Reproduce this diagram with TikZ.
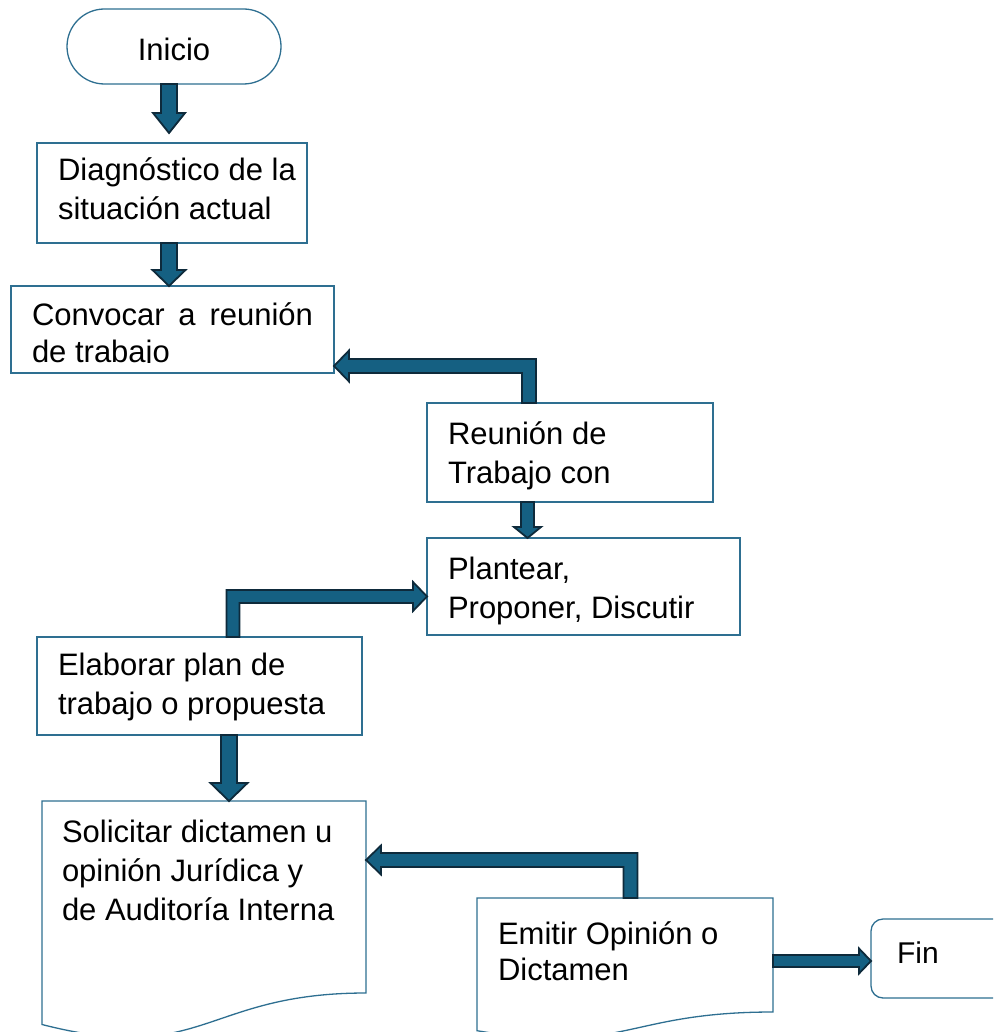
\documentclass[tikz,border=0pt]{standalone}
\usepackage{fontspec}
\setmainfont{Liberation Sans}
\usetikzlibrary{calc}
\definecolor{boxline}{HTML}{2E6F91}
\definecolor{arrfill}{HTML}{156082}
\definecolor{arrline}{HTML}{0E2A3B}
\newcommand\lnstrut{\rule[-0.3\baselineskip]{0pt}{\baselineskip}}
% vertical block arrow: #1 x, #2 source anchor, #3 target anchor, #4 half shaft, #5 half head, #6 head length, #7 tip lift
\newcommand\vblock[7]{%
  \path[barrow] let \p1=(#1,0 |- #2), \p2=($(#1,0 |- #3)+(0,#7)$) in
  (\x1-#4,\y1) -- (\x1-#4,\y2+#6) -- (\x1-#5,\y2+#6) -- (\x1,\y2) --
  (\x1+#5,\y2+#6) -- (\x1+#4,\y2+#6) -- (\x1+#4,\y1) -- cycle;}
% elbow arrow up then left: #1 shaft x, #2 source anchor, #3 y of horizontal, #4 target anchor, #5 half shaft, #6 half head, #7 head length
\newcommand\elbowL[7]{%
  \path[barrow] let \p1=(#1,0 |- #2), \p2=(#4 |- 0,#3) in
  (\x1-#5,\y1) -- (\x1-#5,\y2-#5) -- (\x2+#7,\y2-#5) -- (\x2+#7,\y2-#6) -- (\x2,\y2) --
  (\x2+#7,\y2+#6) -- (\x2+#7,\y2+#5) -- (\x1+#5,\y2+#5) -- (\x1+#5,\y1) -- cycle;}
% elbow arrow up then right
\newcommand\elbowR[7]{%
  \path[barrow] let \p1=(#1,0 |- #2), \p2=(#4 |- 0,#3) in
  (\x1+#5,\y1) -- (\x1+#5,\y2-#5) -- (\x2-#7,\y2-#5) -- (\x2-#7,\y2-#6) -- (\x2,\y2) --
  (\x2-#7,\y2+#6) -- (\x2-#7,\y2+#5) -- (\x1-#5,\y2+#5) -- (\x1-#5,\y1) -- cycle;}
% horizontal block arrow: #1 source, #2 target, #3 y, #4 half shaft, #5 half head, #6 head length
\newcommand\hblock[6]{%
  \path[barrow] let \p1=(#1 |- 0,#3), \p2=(#2 |- 0,#3) in
  (\x1,\y1+#4) -- (\x2-#6,\y1+#4) -- (\x2-#6,\y1+#5) -- (\x2,\y1) --
  (\x2-#6,\y1-#5) -- (\x2-#6,\y1-#4) -- (\x1,\y1-#4) -- cycle;}
\begin{document}
\begin{tikzpicture}[x=1pt,y=1pt,
  box/.style={draw=boxline, line width=1.3pt, fill=white, rectangle, inner sep=0pt, outer sep=0pt},
  docbox/.style={draw=none, rectangle, inner sep=0pt, outer sep=0pt},
  docline/.style={draw=boxline, line width=1.3pt, fill=white},
  txt/.style={inner sep=0pt, outer sep=0pt, anchor=north west, align=left, font=\fontsize{31}{39}\selectfont},
  barrow/.style={fill=arrfill, draw=arrline, line width=1.8pt, line join=miter},
]
\useasboundingbox (0,0) rectangle (993,-1032);
\clip (0,0) rectangle (993,-1032);

% Inicio
\node[box, rounded corners=37.5pt, minimum width=214pt, minimum height=75pt,
      font=\fontsize{31}{39}\selectfont, text height=29pt, text depth=0pt] (inicio) at (174,-46.5) {Inicio};

% Diagnostico
\node[box, minimum width=270pt, minimum height=100pt] (diag) at (172,-193) {};
\node[txt] (tdiag) at ([xshift=21pt,yshift=-10.7pt]diag.north west) {\lnstrut Diagnóstico de la\\\lnstrut situación actual};

% Convocar
\node[box, minimum width=323pt, minimum height=87pt] (conv) at (172.5,-329.5) {};
\begin{scope}
\clip (conv.north west) rectangle ([yshift=10.5pt]conv.south east);
\node[txt, text width=281pt, align=justify, font=\fontsize{31}{37}\selectfont] (tconv)
  at ([xshift=21pt,yshift=-13.1pt]conv.north west) {\lnstrut Convocar a reunión\linebreak\lnstrut de trabajo};
\end{scope}

% Reunion
\node[box, minimum width=286pt, minimum height=99pt] (reun) at (570,-452.5) {};
\node[txt] (treun) at ([xshift=21pt,yshift=-13.7pt]reun.north west) {\lnstrut Reunión de\\\lnstrut Trabajo con};

% Plantear
\node[box, minimum width=313pt, minimum height=97pt] (plan) at (583.5,-586.5) {};
\node[txt] (tplan) at ([xshift=21pt,yshift=-13.7pt]plan.north west) {\lnstrut Plantear,\\\lnstrut Proponer, Discutir};

% Elaborar
\node[box, minimum width=325pt, minimum height=98pt] (elab) at (199.5,-686) {};
\node[txt] (telab) at ([xshift=21pt,yshift=-10.7pt]elab.north west) {\lnstrut Elaborar plan de\\\lnstrut trabajo o propuesta};

% Solicitar (document)
\node[docbox, minimum width=324pt, minimum height=192pt] (sol) at (204,-897) {};
\draw[docline] (sol.north west) -- (sol.north east) -- (sol.south east)
  .. controls (sol.south) and ($(sol.south)+(0,-73)$) .. ($(sol.south west)+(0,-31.5)$) -- cycle;
\node[txt] (tsol) at ([xshift=20pt,yshift=-13.7pt]sol.north west)
  {\lnstrut Solicitar dictamen u\\\lnstrut opinión Jurídica y\\\lnstrut de Auditoría Interna};

% Emitir (document)
\node[docbox, minimum width=296pt, minimum height=114pt] (emi) at (625,-955) {};
\draw[docline] (emi.north west) -- (emi.north east) -- (emi.south east)
  .. controls (emi.south) and ($(emi.south)+(0,-43.4)$) .. ($(emi.south west)+(0,-18.7)$) -- cycle;
\node[txt, font=\fontsize{31}{36}\selectfont] (temi) at ([xshift=21pt,yshift=-20.8pt]emi.north west)
  {\lnstrut Emitir Opinión o\\\lnstrut Dictamen};

% Fin
\node[box, rounded corners=12pt, minimum width=170pt, minimum height=79pt, text width=118pt,
      inner xsep=26pt, align=left, font=\fontsize{30}{36}\selectfont, text height=22pt, text depth=13pt]
      (fin) at (956,-958.5) {Fin};

% Arrows
\vblock{169}{inicio.south}{diag.north}{8pt}{16pt}{20pt}{10pt}
\vblock{169}{diag.south}{conv.north}{8pt}{16.5pt}{16pt}{0pt}
\elbowL{529}{reun.north}{-366}{conv.east}{7pt}{15.5pt}{15pt}
\vblock{527.5}{reun.south}{plan.north}{6.5pt}{13.5pt}{11pt}{0pt}
\elbowR{233}{elab.north}{-596.5}{plan.west}{6.5pt}{14.5pt}{14pt}
\vblock{229}{elab.south}{sol.north}{8pt}{18.5pt}{18pt}{0pt}
\elbowL{630.5}{emi.north}{-860}{sol.east}{7pt}{14.5pt}{15pt}
\hblock{emi.east}{fin.west}{-961}{6pt}{12.5pt}{12pt}
\end{tikzpicture}
\end{document}
